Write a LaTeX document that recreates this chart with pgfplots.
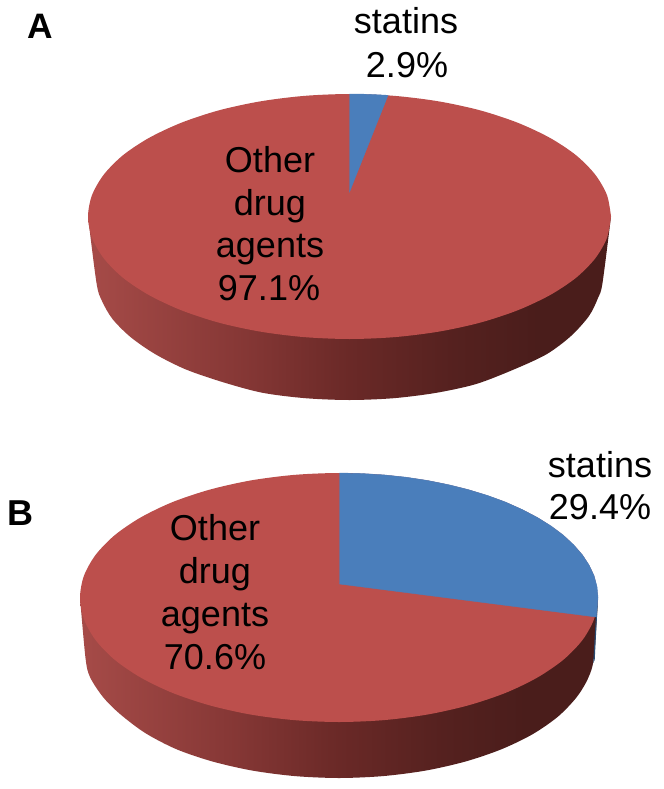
\documentclass[border=0pt]{standalone}
\usepackage{fontspec}
\setmainfont{Liberation Sans}
\usepackage{pgfplots}
\pgfplotsset{compat=1.18}
\definecolor{slicered}{HTML}{BC4F4C}
\definecolor{sliceblue}{HTML}{4A7EBB}
\definecolor{walldark}{HTML}{4A1D1B}
\definecolor{walltipblue}{HTML}{2A4A70}
\definecolor{walla}{HTML}{A64B48}
\definecolor{wallb}{HTML}{853735}
\definecolor{wallc}{HTML}{6A2927}
\definecolor{walld}{HTML}{55211F}
\pgfdeclarehorizontalshading{wall}{100bp}{
  color(0bp)=(walla); color(25bp)=(walla); color(40bp)=(wallb);
  color(50bp)=(wallc); color(60bp)=(walld); color(68bp)=(walldark); color(100bp)=(walldark)}
\tikzset{lab/.style={font=\fontsize{27}{32}\selectfont, anchor=base, inner sep=0pt, text=black},
  tag/.style={font=\fontsize{26.5}{32}\selectfont\bfseries, anchor=base west, inner sep=0pt}}

\begin{document}
\begin{tikzpicture}
\begin{axis}[
  scale only axis, width=498pt, height=591.75pt,
  xmin=0, xmax=664, ymin=0, ymax=789, y dir=reverse,
  hide axis, clip=false,
]
\path[fill=white] (axis cs:0,0) rectangle (axis cs:664,789);

% pie A: wall
\addplot[draw=none, shading=wall, smooth] coordinates {
  (88,216.5)(96.5,283)(102,301)(112.5,319)(130.5,337)(155,354)(186,369.5)(224,382.5)(262.6,392.8)(305.4,398.2)
  (349.5,400)(393.6,398.2)(436.4,392.8)(476.5,383.9)(515,369)(547,354)(571,336)(589,316)(598,298)(602.5,283)(611,216.5)
} -- cycle;
% pie A: other drug agents 97.1
\addplot[draw=none, fill=slicered, smooth] coordinates {
  (611,216.5)(607,195.2)(595.2,174.6)(576,155.2)(549.8,137.8)(517.6,122.7)(480.3,110.4)(438.9,101.4)(394.9,95.9)(349.5,94)
  (304.1,95.9)(260.1,101.4)(218.7,110.4)(181.4,122.7)(149.2,137.8)(123,155.2)(103.8,174.6)(92,195.2)(88,216.5)
  (92,237.8)(103.8,258.4)(123,277.8)(149.2,295.2)(181.4,310.3)(218.7,322.6)(260.1,331.6)(304.1,337.1)(349.5,339)
  (394.9,337.1)(438.9,331.6)(480.3,322.6)(517.6,310.3)(549.8,295.2)(576,277.8)(595.2,258.4)(607,237.8)(611,216.5)
};
% pie A: statins 2.9
\addplot[draw=sliceblue, line width=0.3pt, fill=sliceblue] coordinates {
  (349.5,192)(349.5,94)(359,94.1)(369,94.3)(378,94.8)(388,95.3)
} -- cycle;

% pie B: wall
\addplot[draw=none, shading=wall, smooth] coordinates {
  (80,597.5)(85.5,658)(90,677)(103,697)(120,714)(145.2,733)(176.4,749.2)(212.5,761.5)(252.5,770.6)(295.1,776.1)
  (339,778)(382.9,776.1)(425.5,770.6)(465.5,761.5)(501.6,749.2)(532.8,734.1)(558.1,716.5)(576.7,697.1)(588.2,678)(594,657)(598,597.5)
} -- cycle;
\addplot[draw=none, fill=walltipblue] coordinates {
  (598,600)(596.5,625)(594.7,660)(593.2,663)(594.5,640)(595.8,618)
} -- cycle;
% pie B: other drug agents 70.6
\addplot[draw=none, fill=slicered, smooth] coordinates {
  (598,597.5)(594.1,575.9)(582.4,554.9)(563.3,535.2)(537.4,517.5)(505.5,502.1)(468.5,489.7)(427.6,480.5)(384,474.9)(339,473)
  (294,474.9)(250.4,480.5)(209.5,489.7)(172.5,502.1)(140.6,517.5)(114.7,535.2)(95.6,554.9)(83.9,575.9)(80,597.5)
  (83.9,619.1)(95.6,640.1)(114.7,659.8)(140.6,677.5)(172.5,692.9)(209.5,705.3)(250.4,714.5)(294,720.1)(339,722)
  (384,720.1)(427.6,714.5)(468.5,705.3)(505.5,692.9)(537.4,677.5)(563.3,659.8)(582.4,640.1)(594.1,619.1)(598,597.5)
};
% pie B: statins 29.4
\addplot[draw=sliceblue, line width=0.3pt, fill=sliceblue] coordinates {
  (339.5,584)(339.5,473)(361.6,473.5)(384,474.9)(406,477.2)(427.6,480.5)(448.5,484.7)(468.5,489.7)(487.6,495.5)(505.5,502.1)
  (522.1,509.5)(537.4,517.5)(551.2,526.1)(563.3,535.2)(573.7,544.9)(582.4,554.9)(589.2,565.3)(594.1,575.9)(597,586.6)(598,597.5)(597,608.4)(596.3,617)
} -- cycle;

% labels
\node[tag] at (axis cs:27,38) {A};
\node[tag, font=\fontsize{27}{32}\selectfont\bfseries] at (axis cs:7,525) {B};
\node[lab] at (axis cs:406,33) {statins};
\node[lab] at (axis cs:407,77) {2.9\%};
\node[lab] at (axis cs:270,172) {Other};
\node[lab] at (axis cs:270,215) {drug};
\node[lab] at (axis cs:270,257) {agents};
\node[lab] at (axis cs:269,300) {97.1\%};
\node[lab] at (axis cs:600,477) {statins};
\node[lab] at (axis cs:600,519) {29.4\%};
\node[lab] at (axis cs:215,540) {Other};
\node[lab] at (axis cs:215,583) {drug};
\node[lab] at (axis cs:215,626) {agents};
\node[lab] at (axis cs:215,669) {70.6\%};
\end{axis}
\end{tikzpicture}
\end{document}
